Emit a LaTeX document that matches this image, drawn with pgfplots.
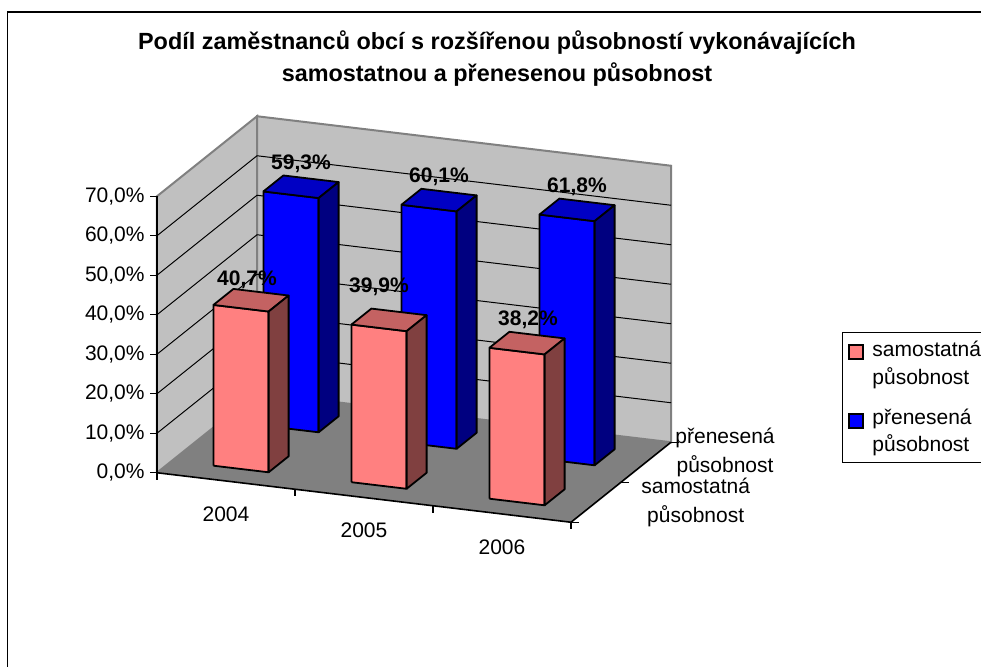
\documentclass[border=0pt]{standalone}
\usepackage{pgfplots}
\pgfplotsset{compat=1.18}
\usepackage{fontspec}
\setmainfont{Liberation Sans}
\definecolor{pinkF}{HTML}{FF8080}
\definecolor{pinkT}{HTML}{C46262}
\definecolor{pinkS}{HTML}{804040}
\definecolor{blueF}{HTML}{0000FF}
\definecolor{blueT}{HTML}{0000C4}
\definecolor{blueS}{HTML}{000080}
\definecolor{wallC}{HTML}{C0C0C0}
\definecolor{floorC}{HTML}{808080}
\definecolor{edgeC}{HTML}{808080}

% one 3D bar: #1 category position, #2 depth row, #3 value, #4 front, #5 top, #6 side colour
\newcommand\cuboid[6]{%
  \pgfmathsetmacro\xa{#1-0.2}%
  \pgfmathsetmacro\xb{#1+0.2}%
  \pgfmathsetmacro\ya{#2-0.2}%
  \pgfmathsetmacro\yb{#2+0.2}%
  \edef\doplot{%
   \noexpand\addplot3[fill=#4,draw=black,line width=0.9pt,line join=round,mark=none,forget plot] coordinates {(\xa,\ya,0) (\xb,\ya,0) (\xb,\ya,#3) (\xa,\ya,#3) (\xa,\ya,0)};%
   \noexpand\addplot3[fill=#5,draw=black,line width=0.9pt,line join=round,mark=none,forget plot] coordinates {(\xa,\ya,#3) (\xb,\ya,#3) (\xb,\yb,#3) (\xa,\yb,#3) (\xa,\ya,#3)};%
   \noexpand\addplot3[fill=#6,draw=black,line width=0.9pt,line join=round,mark=none,forget plot] coordinates {(\xb,\ya,0) (\xb,\yb,0) (\xb,\yb,#3) (\xb,\ya,#3) (\xb,\ya,0)};%
  }\doplot}

\begin{document}
\begin{tikzpicture}
\path[use as bounding box] (0pt,0pt) rectangle (490.5pt,-333.5pt);
\draw[black,line width=0.7pt] (3.75pt,-400pt) -- (3.75pt,-6pt) -- (600pt,-6pt);
\node[anchor=base,font=\bfseries\fontsize{11.7}{14}\selectfont] at (248.5pt,-25pt) {Podíl zaměstnanců obcí s rozšířenou působností vykonávajících};
\node[anchor=base,font=\bfseries\fontsize{11.7}{14}\selectfont] at (248.5pt,-41pt) {samostatnou a přenesenou působnost};

\begin{axis}[
  x={(69pt,-8.25pt)}, y={(25pt,20pt)}, z={(0pt,1.975pt)},
  anchor=origin, at={(113pt,-240.5pt)},
  xmin=-0.5, xmax=2.5, ymin=0, ymax=2, zmin=0, zmax=70,
  axis line style={draw=none},
  tick style={draw=none},
  major tick length=0pt,
  clip=false,
  xtick={0,1,2}, xticklabels={2004,2005,2006},
  ytick=\empty,
  ztick={0,10,20,30,40,50,60,70},
  zticklabel={\pgfmathprintnumber[assume math mode=true,fixed,fixed zerofill,precision=1,use comma]{\tick}\%},
  ticklabel style={font=\fontsize{10.5}{14.5}\selectfont, inner sep=0pt},
  xticklabel style={anchor=north, yshift=-12.5pt},
  zticklabel style={anchor=east, xshift=-6pt},
]
% walls and floor
\addplot3[fill=wallC, draw=edgeC, line width=1pt, mark=none, forget plot] coordinates {(-0.5,0,0) (-0.5,2,0) (-0.5,2,70) (-0.5,0,70) (-0.5,0,0)};
\addplot3[fill=wallC, draw=edgeC, line width=1pt, mark=none, forget plot] coordinates {(-0.5,2,0) (2.5,2,0) (2.5,2,70) (-0.5,2,70) (-0.5,2,0)};
\addplot3[fill=floorC, draw=none, mark=none, forget plot] coordinates {(-0.5,0,0) (2.5,0,0) (2.5,2,0) (-0.5,2,0) (-0.5,0,0)};
% grid lines on the walls
\addplot3[black, line width=0.5pt, mark=none, forget plot] coordinates {(-0.5,0,10) (-0.5,2,10) (2.5,2,10)};
\addplot3[black, line width=0.5pt, mark=none, forget plot] coordinates {(-0.5,0,20) (-0.5,2,20) (2.5,2,20)};
\addplot3[black, line width=0.5pt, mark=none, forget plot] coordinates {(-0.5,0,30) (-0.5,2,30) (2.5,2,30)};
\addplot3[black, line width=0.5pt, mark=none, forget plot] coordinates {(-0.5,0,40) (-0.5,2,40) (2.5,2,40)};
\addplot3[black, line width=0.5pt, mark=none, forget plot] coordinates {(-0.5,0,50) (-0.5,2,50) (2.5,2,50)};
\addplot3[black, line width=0.5pt, mark=none, forget plot] coordinates {(-0.5,0,60) (-0.5,2,60) (2.5,2,60)};
% axis lines
\addplot3[black, line width=0.8pt, mark=none, forget plot] coordinates {(-0.5,0,0) (-0.5,0,70)};
\addplot3[black, line width=0.8pt, mark=none, forget plot] coordinates {(-0.5,0,0) (2.5,0,0) (2.5,2,0)};
% bars: back row (přenesená působnost), then front row (samostatná působnost)
\cuboid{0}{1.5}{59.3}{blueF}{blueT}{blueS}
\cuboid{1}{1.5}{60.1}{blueF}{blueT}{blueS}
\cuboid{2}{1.5}{61.8}{blueF}{blueT}{blueS}
\cuboid{0}{0.5}{40.7}{pinkF}{pinkT}{pinkS}
\cuboid{1}{0.5}{39.9}{pinkF}{pinkT}{pinkS}
\cuboid{2}{0.5}{38.2}{pinkF}{pinkT}{pinkS}
% tick marks
\pgfplotsinvokeforeach{0,10,20,30,40,50,60,70}{\draw[black,line width=0.7pt] (axis cs:-0.5,0,#1) -- ++(-3.5pt,0pt);}
\pgfplotsinvokeforeach{-0.5,0.5,1.5,2.5}{\draw[black,line width=0.7pt] (axis cs:#1,0,0) -- ++(0pt,-3.5pt);}
\pgfplotsinvokeforeach{0,1,2}{\draw[black,line width=0.7pt] (axis cs:2.5,#1,0) -- ++(4pt,0pt);}
% depth-axis (series) labels
\tikzset{dep/.style={anchor=west, inner sep=0pt, align=center, font=\fontsize{10.5}{14.5}\selectfont}}
\node[dep, xshift=22.5pt] at (axis cs:2.5,0.5,0) {samostatná\\působnost};
\node[dep, xshift=14.5pt, yshift=4.75pt] at (axis cs:2.5,1.5,0) {přenesená\\působnost};
% data labels
\tikzset{dlab/.style={anchor=base, inner sep=0pt, font=\bfseries\fontsize{10.5}{12}\selectfont}}
\node[dlab, xshift=-5pt, yshift=4.4pt] at (axis cs:0,1.7,59.3) {59,3\%};
\node[dlab, xshift=-5pt, yshift=5pt]   at (axis cs:1,1.7,60.1) {60,1\%};
\node[dlab, xshift=-5pt, yshift=4.5pt] at (axis cs:2,1.7,61.8) {61,8\%};
\node[dlab, xshift=-7pt, yshift=3.6pt] at (axis cs:0,0.7,40.7) {40,7\%};
\node[dlab, xshift=-10pt, yshift=9.5pt] at (axis cs:1,0.7,39.9) {39,9\%};
\node[dlab, xshift=-4.5pt, yshift=5pt] at (axis cs:2,0.7,38.2) {38,2\%};
\end{axis}

% legend
\draw[black,line width=0.5pt,fill=white] (421pt,-166.5pt) rectangle (520pt,-231.5pt);
\draw[black,line width=0.6pt,fill=pinkF] (424.5pt,-172.5pt) rectangle (431.5pt,-179.5pt);
\draw[black,line width=0.6pt,fill=blueF] (424.5pt,-207pt) rectangle (431.5pt,-214pt);
\tikzset{ltxt/.style={anchor=base west, inner sep=0pt, font=\fontsize{10.5}{12}\selectfont}}
\node[ltxt] at (436pt,-178.5pt) {samostatná};
\node[ltxt] at (436pt,-192.5pt) {působnost};
\node[ltxt] at (436pt,-212.5pt) {přenesená};
\node[ltxt] at (436pt,-226pt) {působnost};
\end{tikzpicture}
\end{document}
